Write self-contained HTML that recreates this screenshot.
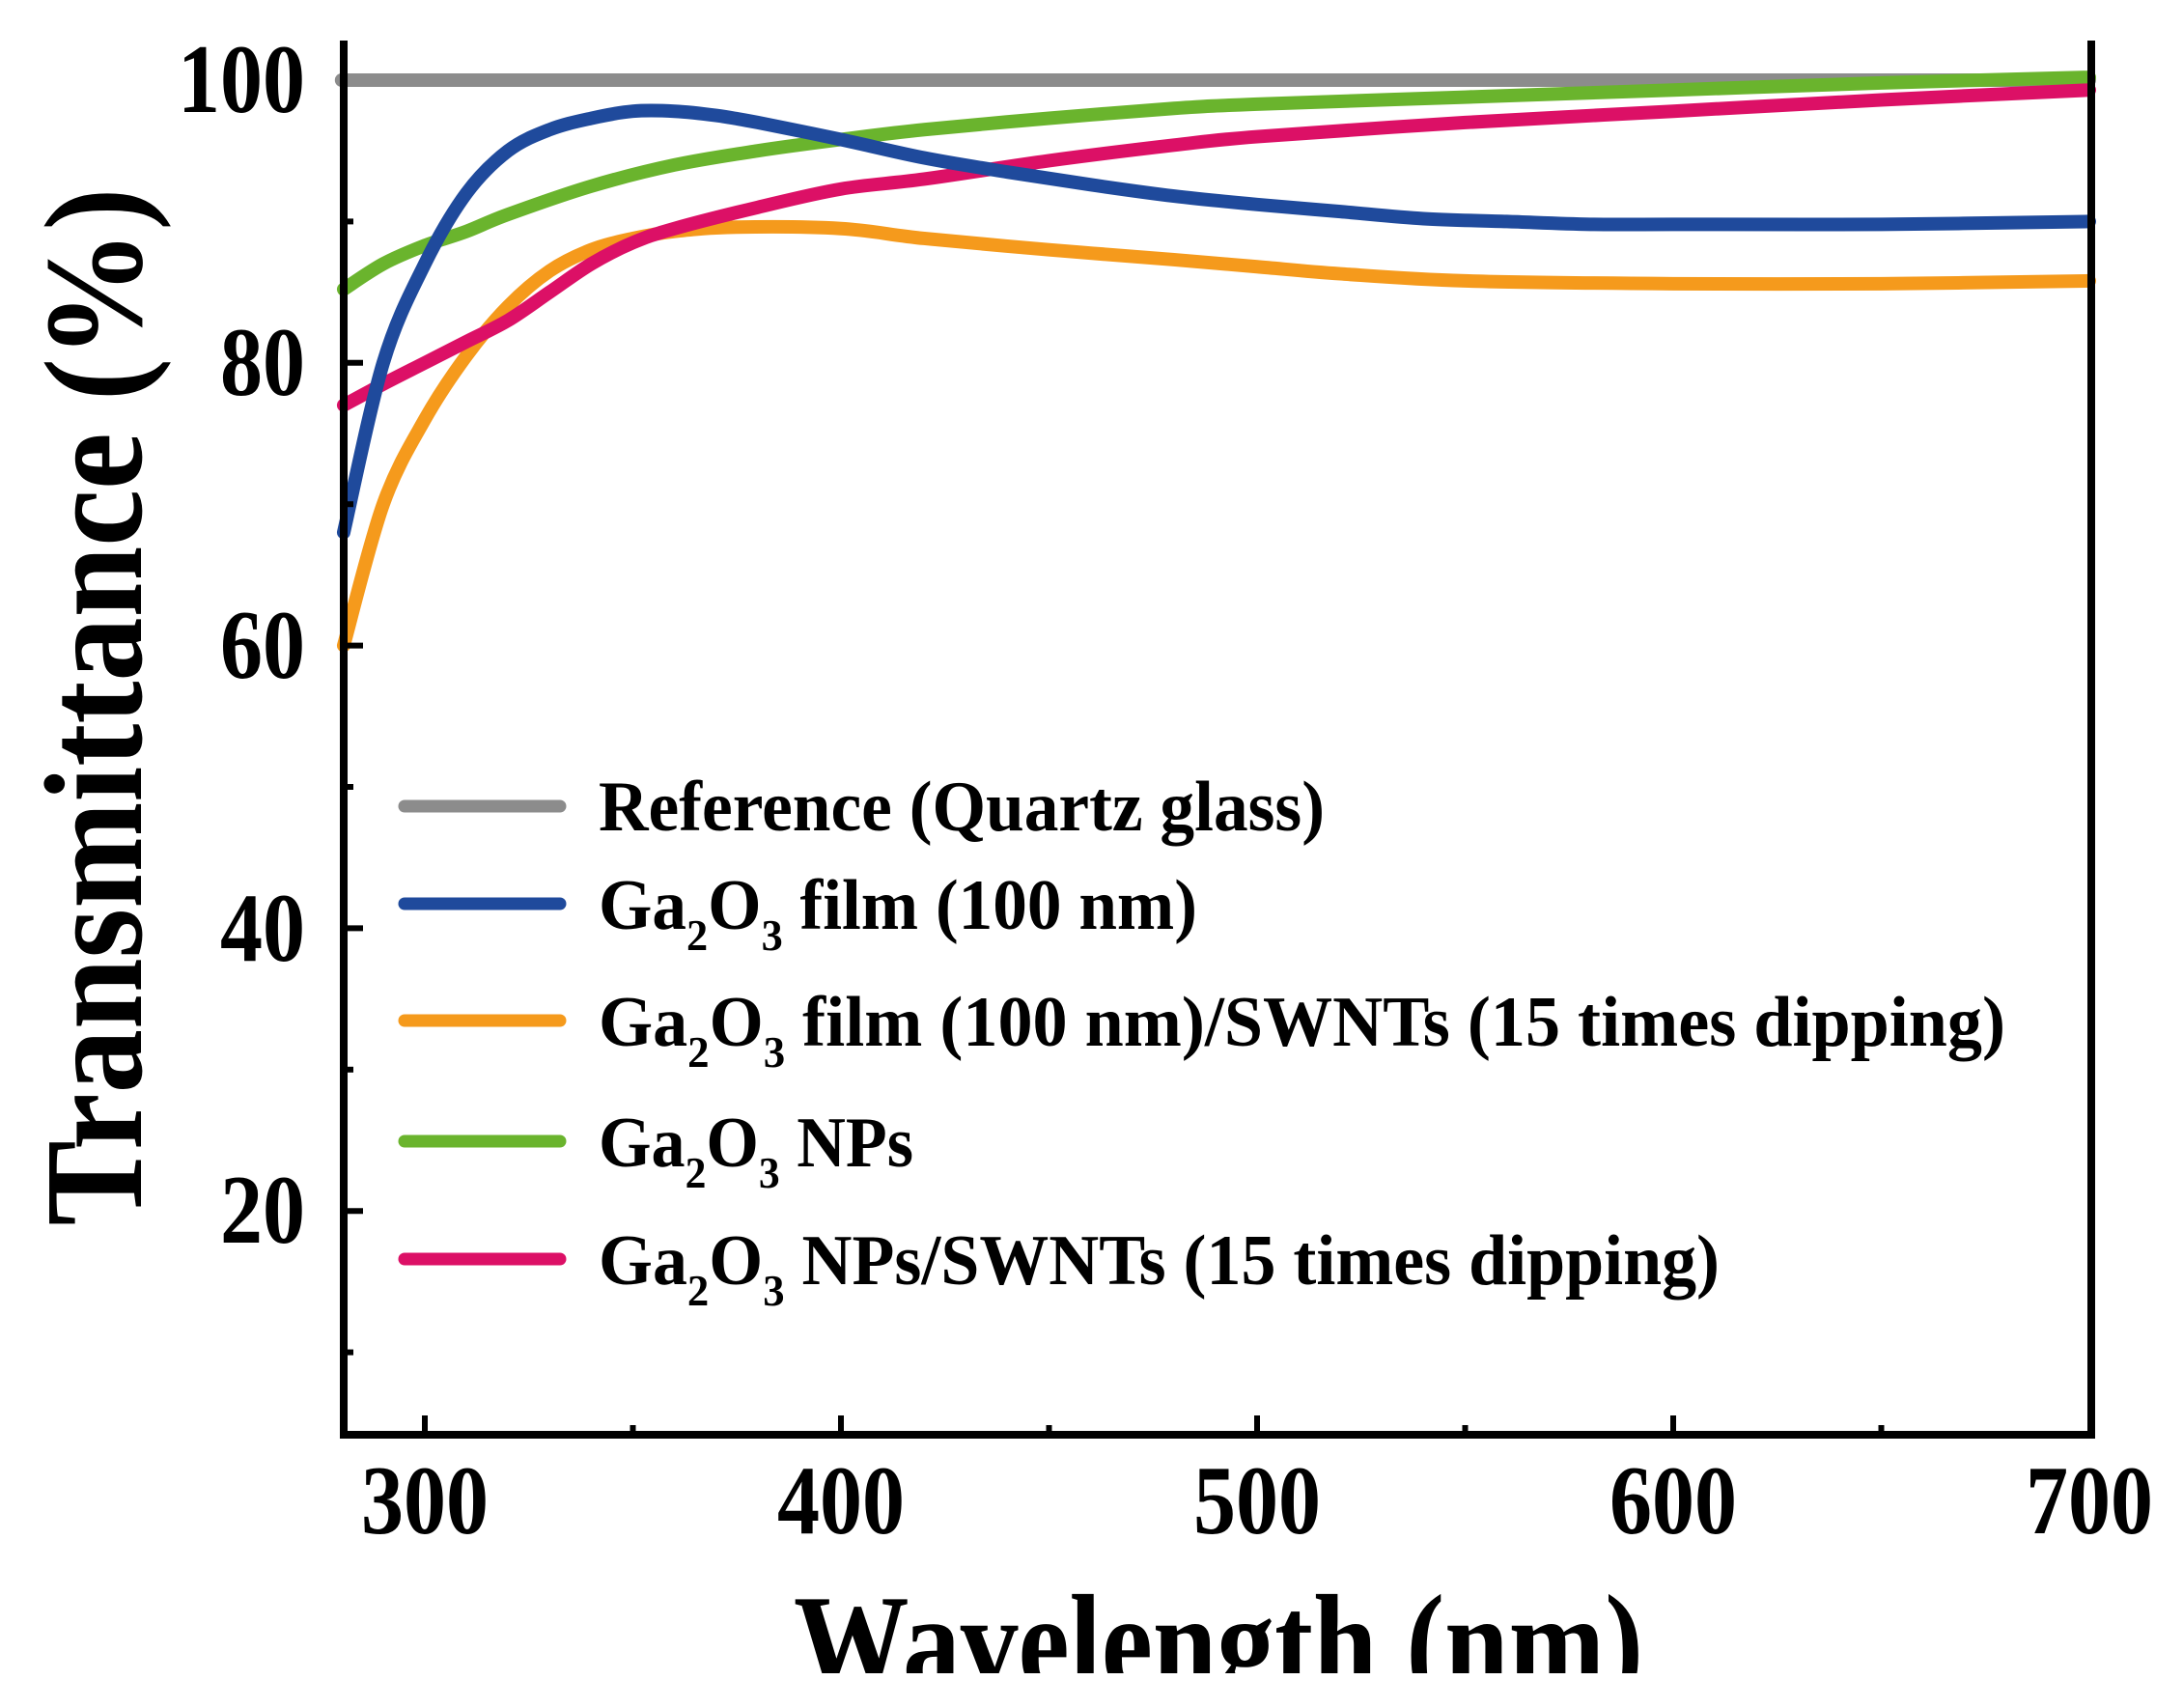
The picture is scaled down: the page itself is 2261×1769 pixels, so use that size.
<!DOCTYPE html>
<html><head><meta charset="utf-8"><style>
html,body{margin:0;padding:0;background:#fff;}
svg{display:block;}
text{font-family:"Liberation Serif","Times New Roman",serif;font-weight:bold;fill:#000;}
</style></head><body>
<svg id="s" width="2261" height="1769" viewBox="0 0 2261 1769" xmlns="http://www.w3.org/2000/svg">
<g id="curves" fill="none" stroke-width="14" stroke-linecap="round" stroke-linejoin="round"></g>
<g stroke="#000" stroke-width="8" fill="none">
<path d="M356 42 V1486 H2166 V42"/>
</g>
<g id="ticks" stroke="#000" stroke-width="6"></g>
<g font-size="102" text-anchor="end">
<text x="316" y="116" textLength="132" lengthAdjust="spacingAndGlyphs">100</text>
<text x="316" y="409" textLength="88" lengthAdjust="spacingAndGlyphs">80</text>
<text x="316" y="702" textLength="88" lengthAdjust="spacingAndGlyphs">60</text>
<text x="316" y="995" textLength="88" lengthAdjust="spacingAndGlyphs">40</text>
<text x="316" y="1287" textLength="88" lengthAdjust="spacingAndGlyphs">20</text>
</g>
<g font-size="102" text-anchor="middle">
<text x="440" y="1588" textLength="132" lengthAdjust="spacingAndGlyphs">300</text>
<text x="871" y="1588" textLength="132" lengthAdjust="spacingAndGlyphs">400</text>
<text x="1302" y="1588" textLength="132" lengthAdjust="spacingAndGlyphs">500</text>
<text x="1733" y="1588" textLength="132" lengthAdjust="spacingAndGlyphs">600</text>
<text x="2164" y="1588" textLength="132" lengthAdjust="spacingAndGlyphs">700</text>
</g>
<text x="1262" y="1748" font-size="140" text-anchor="middle" textLength="880" lengthAdjust="spacingAndGlyphs">Wavelength (nm)</text>
<rect x="0" y="1733" width="2261" height="40" fill="#fff"/>
<text transform="translate(146,732) rotate(-90)" font-size="145" text-anchor="middle" textLength="1075" lengthAdjust="spacingAndGlyphs">Transmittance (%)</text>
<g stroke-width="13" stroke-linecap="round">
<line x1="419" y1="835" x2="580" y2="835" stroke="#8c8c8c"/>
<line x1="419" y1="936" x2="580" y2="936" stroke="#1f4a9c"/>
<line x1="419" y1="1057" x2="580" y2="1057" stroke="#f59a1c"/>
<line x1="419" y1="1182" x2="580" y2="1182" stroke="#6ab42d"/>
<line x1="419" y1="1304" x2="580" y2="1304" stroke="#dc1066"/>
</g>
<g font-size="74">
<text x="620" y="860" textLength="752" lengthAdjust="spacingAndGlyphs">Reference (Quartz glass)</text>
<text x="620" y="962" textLength="620" lengthAdjust="spacingAndGlyphs">Ga<tspan font-size="46" dy="22">2</tspan><tspan dy="-22">O</tspan><tspan font-size="46" dy="22">3</tspan><tspan dy="-22"> film (100 nm)</tspan></text>
<text x="620" y="1083" textLength="1457" lengthAdjust="spacingAndGlyphs">Ga<tspan font-size="46" dy="22">2</tspan><tspan dy="-22">O</tspan><tspan font-size="46" dy="22">3</tspan><tspan dy="-22"> film (100 nm)/SWNTs (15 times dipping)</tspan></text>
<text x="620" y="1208" textLength="326" lengthAdjust="spacingAndGlyphs">Ga<tspan font-size="46" dy="22">2</tspan><tspan dy="-22">O</tspan><tspan font-size="46" dy="22">3</tspan><tspan dy="-22"> NPs</tspan></text>
<text x="620" y="1330" textLength="1161" lengthAdjust="spacingAndGlyphs">Ga<tspan font-size="46" dy="22">2</tspan><tspan dy="-22">O</tspan><tspan font-size="46" dy="22">3</tspan><tspan dy="-22"> NPs/SWNTs (15 times dipping)</tspan></text>
</g>
</svg>
<script>
(function(){
var NS="http://www.w3.org/2000/svg";
function X(w){return 440+(w-300)*4.31;}
function Y(v){return 83+(100-v)*14.64;}
var series=[
["#8c8c8c",[[280,100],[700,100]]],
["#f59a1c",[[280.5,60],[290,70],[300,76],[310,80.5],[320,84],[330,86.5],[340,88],[350,88.8],[360,89.3],[375,89.6],[400,89.5],[420,88.8],[450,88],[480,87.3],[500,86.8],[520,86.3],[550,85.8],[600,85.6],[650,85.6],[700,85.8]]],
["#6ab42d",[[280.5,85.2],[290,87],[300,88.3],[310,89.3],[320,90.5],[340,92.5],[360,94],[380,95],[400,95.8],[420,96.5],[450,97.3],[480,98],[500,98.3],[550,98.8],[600,99.3],[650,99.8],[700,100.2]]],
["#dc1066",[[280.5,77],[290,78.5],[300,80],[310,81.5],[320,83],[330,85],[340,87],[350,88.5],[360,89.5],[380,91],[400,92.3],[420,93],[450,94.3],[480,95.4],[500,96],[550,97],[600,97.8],[650,98.6],[700,99.3]]],
["#1f4a9c",[[280.5,68],[290,80],[300,87],[310,92],[320,95],[330,96.5],[340,97.3],[350,97.8],[360,97.8],[370,97.5],[380,97],[400,95.8],[420,94.5],[440,93.5],[460,92.6],[480,91.8],[500,91.2],[520,90.7],[540,90.2],[560,90],[580,89.8],[600,89.8],[650,89.8],[700,90]]]
];
var g=document.getElementById("curves");
series.forEach(function(s){
 var p=s[1].map(function(a){return [X(a[0]),Y(a[1])];});
 var d="M"+p[0][0]+" "+p[0][1];
 for(var i=0;i<p.length-1;i++){
  var p0=p[i-1]||p[i],p1=p[i],p2=p[i+1],p3=p[i+2]||p2;
  var c1=[p1[0]+(p2[0]-p0[0])/6,p1[1]+(p2[1]-p0[1])/6];
  var c2=[p2[0]-(p3[0]-p1[0])/6,p2[1]-(p3[1]-p1[1])/6];
  d+=" C"+c1[0]+" "+c1[1]+" "+c2[0]+" "+c2[1]+" "+p2[0]+" "+p2[1];
 }
 var e=document.createElementNS(NS,"path");
 e.setAttribute("d",d);e.setAttribute("stroke",s[0]);
 g.appendChild(e);
});
var t=document.getElementById("ticks"),h="";
for(var w=300;w<=650;w+=50){var x=X(w),L=(w%100==0)?20:10;h+='<line x1="'+x+'" y1="1486" x2="'+x+'" y2="'+(1486-L)+'"/>';}
for(var v=10;v<=90;v+=10){var y=Y(v),L=(v%20==0)?20:10;h+='<line x1="356" y1="'+y+'" x2="'+(356+L)+'" y2="'+y+'"/>';}
t.innerHTML=h;
})();
</script>
</body></html>
